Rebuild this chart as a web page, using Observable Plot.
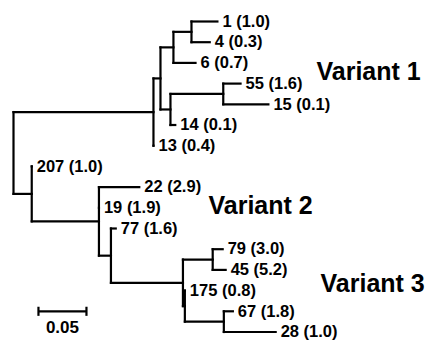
<!DOCTYPE html>
<html><head><meta charset="utf-8">
<script src="https://cdn.jsdelivr.net/npm/d3@7"></script>
<script src="https://cdn.jsdelivr.net/npm/@observablehq/plot@0.6"></script>
<style>body{margin:0;background:#fff} svg{display:block}</style>
</head><body><div id="chart"></div>
<script>
// Leaves (top to bottom) and their values
const leafNames  = ["1","4","6","55","15","14","13","207","22","19","77","79","45","175","67","28"];
const leafValues = [1.0, 0.3, 0.7, 1.6, 0.1, 0.1, 0.4, 1.0, 2.9, 1.9, 1.6, 3.0, 5.2, 0.8, 1.8, 1.0];

// Tree topology and branch lengths (substitutions/site)
const nodeIds       = ["root","V1","A","B","C","1","4","6","D","E","55","15","14","13","F","207","G","22","19","H","77","I","J","79","45","K","175","L","67","28"];
const parentIds     = [null,"root","V1","A","B","C","C","B","A","D","E","E","D","V1","root","F","F","G","G","G","H","H","I","J","J","I","K","K","L","L"];
const branchLengths = [0,0.1458,0.0073,0.0135,0.0188,0.027,0.019,0.023,0.0104,0.055,0.018,0.047,0.005,0.0,0.019,0.0,0.07,0.042,0.0,0.0125,0.005,0.075,0.031,0.0104,0.0135,0.002,0.0,0.0406,0.0094,0.054];

// Clade annotations
const cladeNames = ["Variant 1","Variant 2","Variant 3"];
const cladeX     = [0.3156, 0.2031, 0.3198];
const cladeY     = [2.45, 8.9, 12.7];

// Scale bar
const scaleBarLength = 0.05;
const scaleBarStart  = 0.026;
const scaleBarRow    = 14.0;

const table = nodeIds.map((id, i) => ({id, parent: parentIds[i], len: branchLengths[i]}));
const root = d3.stratify().id(d => d.id).parentId(d => d.parent)(table);
root.eachBefore(n => { n.bx = n.parent ? n.parent.bx + n.data.len : 0; });
root.leaves().forEach((n, i) => { n.by = i; });
root.eachAfter(n => { if (n.children) n.by = (n.children[0].by + n.children[n.children.length - 1].by) / 2; });

const hsegs = root.descendants().filter(n => n.parent).map(n => ({x1: n.parent.bx, x2: n.bx, y: n.by}));
const vsegs = root.descendants().filter(n => n.children).map(n => ({x: n.bx, y1: n.children[0].by, y2: n.children[n.children.length - 1].by}));
const leaves = root.leaves().map(n => {
  const i = leafNames.indexOf(n.id);
  return {x: n.bx, y: n.by, label: `${n.id} (${leafValues[i].toFixed(1)})`};
});
const clades = cladeNames.map((t, i) => ({t, x: cladeX[i], y: cladeY[i]}));
const bar = [{x1: scaleBarStart, x2: scaleBarStart + scaleBarLength, y: scaleBarRow}];

const chart = Plot.plot({
  width: 430, height: 341, margin: 0,
  x: {domain: [0, 0.1], range: [13, 109], axis: null},
  y: {domain: [0, 15], range: [21, 331.5], axis: null},
  style: {fontFamily: "'Liberation Sans', Arial, sans-serif", background: "#fff", color: "#000"},
  marks: [
    Plot.link(hsegs, {x1: "x1", x2: "x2", y1: "y", y2: "y", stroke: "#000", strokeWidth: 2.2, strokeLinecap: "square"}),
    Plot.link(vsegs, {x1: "x", x2: "x", y1: "y1", y2: "y2", stroke: "#000", strokeWidth: 2.2, strokeLinecap: "square"}),
    Plot.text(leaves, {x: "x", y: "y", text: "label", textAnchor: "start", dx: 5, fontSize: 16.5, fontWeight: "bold", fill: "#000"}),
    Plot.text(clades, {x: "x", y: "y", text: "t", textAnchor: "start", fontSize: 25, fontWeight: "bold", fill: "#000"}),
    Plot.link(bar, {x1: "x1", x2: "x2", y1: "y", y2: "y", stroke: "#000", strokeWidth: 2.2}),
    Plot.link(bar, {x1: "x1", x2: "x1", y1: d => d.y - 0.22, y2: d => d.y + 0.22, stroke: "#000", strokeWidth: 2.2}),
    Plot.link(bar, {x1: "x2", x2: "x2", y1: d => d.y - 0.22, y2: d => d.y + 0.22, stroke: "#000", strokeWidth: 2.2}),
    Plot.text(bar, {x: d => (d.x1 + d.x2) / 2, y: d => d.y + 0.8, text: () => String(scaleBarLength), fontSize: 17, fontWeight: "bold", fill: "#000"})
  ]
});
document.getElementById("chart").appendChild(chart);
</script>
</body></html>
